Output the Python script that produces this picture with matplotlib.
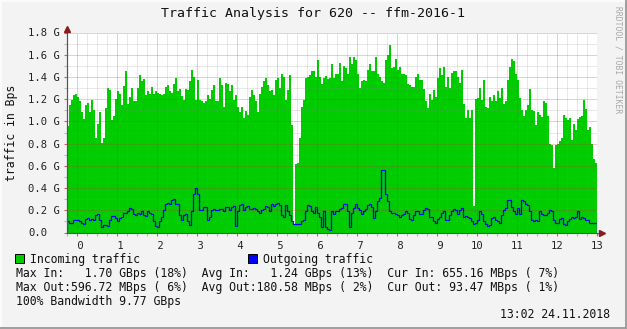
import numpy as np
import matplotlib
matplotlib.use('Agg')
import matplotlib.pyplot as plt
from matplotlib.patches import Rectangle
from matplotlib.lines import Line2D

W, H = 627, 329
MONO = 'DejaVu Sans Mono'

# incoming / outgoing traffic in G, one value per 0.05 on the x axis, starting at -0.25
incoming = [
    0.96, 1.15, 1.19, 1.24, 1.25, 1.22, 1.18, 1.08, 1.02, 1.15, 1.17, 1.08, 1.19, 1.10, 0.85,
    0.98, 1.08, 0.81, 0.85, 1.12, 1.30, 1.28, 1.01, 1.05, 1.20, 1.27, 1.25, 1.15, 1.32, 1.45,
    1.16, 1.22, 1.30, 1.18, 1.18, 1.30, 1.42, 1.36, 1.38, 1.24, 1.27, 1.25, 1.31, 1.25, 1.27,
    1.26, 1.25, 1.24, 1.25, 1.31, 1.33, 1.27, 1.26, 1.34, 1.39, 1.27, 1.29, 1.23, 1.19, 1.29,
    1.28, 1.36, 1.46, 1.40, 1.19, 1.37, 1.19, 1.18, 1.17, 1.18, 1.24, 1.20, 1.28, 1.33, 1.18,
    1.18, 1.39, 1.33, 1.13, 1.35, 1.34, 1.27, 1.33, 1.19, 1.24, 1.13, 1.08, 1.13, 1.03, 1.09,
    1.06, 1.22, 1.28, 1.24, 1.18, 1.08, 1.25, 1.31, 1.36, 1.39, 1.33, 1.27, 1.28, 1.24, 1.37,
    1.39, 1.30, 1.43, 1.40, 1.19, 1.28, 1.42, 0.97, 0.08, 0.62, 0.63, 0.85, 1.13, 1.19, 1.39,
    1.40, 1.42, 1.45, 1.45, 1.40, 1.55, 1.40, 1.34, 1.39, 1.41, 1.38, 1.39, 1.52, 1.39, 1.43,
    1.43, 1.53, 1.36, 1.50, 1.48, 1.43, 1.58, 1.52, 1.58, 1.55, 1.43, 1.30, 1.36, 1.37, 1.36,
    1.46, 1.52, 1.45, 1.45, 1.58, 1.43, 1.40, 1.36, 1.35, 1.55, 1.60, 1.69, 1.48, 1.49, 1.56,
    1.46, 1.49, 1.43, 1.43, 1.42, 1.34, 1.33, 1.31, 1.31, 1.40, 1.43, 1.37, 1.37, 1.29, 1.18,
    1.12, 1.25, 1.19, 1.28, 1.22, 1.39, 1.48, 1.42, 1.49, 1.31, 1.40, 1.30, 1.44, 1.45, 1.45,
    1.40, 1.35, 1.46, 1.16, 1.03, 1.10, 1.03, 1.10, 0.24, 1.20, 1.21, 1.30, 1.19, 1.37, 1.13,
    1.12, 1.22, 1.18, 1.24, 1.18, 1.27, 1.21, 1.30, 1.16, 1.18, 1.37, 1.49, 1.56, 1.54, 1.43,
    1.37, 1.21, 1.10, 1.05, 1.10, 1.15, 1.29, 1.10, 1.09, 0.97, 1.08, 1.06, 1.04, 1.18, 1.17,
    1.05, 0.80, 0.79, 0.58, 0.79, 0.80, 0.82, 0.85, 1.06, 1.03, 1.01, 1.03, 0.83, 0.98, 0.92,
    1.02, 1.04, 1.05, 1.19, 1.11, 0.92, 0.95, 0.80, 0.66, 0.63,
]
outgoing = [
    0.10, 0.09, 0.09, 0.11, 0.11, 0.11, 0.10, 0.09, 0.08, 0.12, 0.13, 0.11, 0.12, 0.11, 0.16,
    0.17, 0.11, 0.05, 0.07, 0.07, 0.06, 0.11, 0.15, 0.15, 0.13, 0.10, 0.13, 0.14, 0.18, 0.18,
    0.19, 0.22, 0.21, 0.17, 0.16, 0.18, 0.17, 0.19, 0.16, 0.15, 0.19, 0.18, 0.17, 0.10, 0.06,
    0.05, 0.10, 0.14, 0.20, 0.26, 0.27, 0.26, 0.29, 0.30, 0.26, 0.26, 0.16, 0.11, 0.16, 0.17,
    0.10, 0.07, 0.19, 0.35, 0.40, 0.35, 0.20, 0.20, 0.23, 0.23, 0.11, 0.14, 0.20, 0.21, 0.20,
    0.20, 0.21, 0.21, 0.19, 0.23, 0.23, 0.20, 0.23, 0.24, 0.06, 0.19, 0.25, 0.26, 0.20, 0.23,
    0.24, 0.21, 0.21, 0.22, 0.21, 0.19, 0.18, 0.20, 0.21, 0.24, 0.23, 0.19, 0.26, 0.24, 0.26,
    0.27, 0.25, 0.16, 0.14, 0.25, 0.19, 0.16, 0.10, 0.08, 0.08, 0.08, 0.08, 0.10, 0.11, 0.19,
    0.25, 0.24, 0.19, 0.18, 0.23, 0.18, 0.14, 0.05, 0.19, 0.05, 0.03, 0.02, 0.19, 0.17, 0.19,
    0.19, 0.21, 0.22, 0.26, 0.26, 0.19, 0.05, 0.18, 0.22, 0.26, 0.22, 0.20, 0.17, 0.19, 0.21,
    0.25, 0.26, 0.23, 0.13, 0.19, 0.28, 0.31, 0.56, 0.56, 0.35, 0.28, 0.19, 0.18, 0.18, 0.17,
    0.16, 0.14, 0.16, 0.17, 0.19, 0.18, 0.12, 0.11, 0.16, 0.19, 0.19, 0.17, 0.17, 0.20, 0.22,
    0.21, 0.14, 0.14, 0.10, 0.09, 0.12, 0.14, 0.18, 0.19, 0.11, 0.11, 0.16, 0.19, 0.21, 0.20,
    0.17, 0.20, 0.22, 0.14, 0.15, 0.14, 0.13, 0.10, 0.08, 0.09, 0.11, 0.19, 0.17, 0.10, 0.08,
    0.06, 0.07, 0.13, 0.14, 0.11, 0.10, 0.09, 0.16, 0.20, 0.22, 0.29, 0.29, 0.23, 0.19, 0.17,
    0.22, 0.17, 0.29, 0.28, 0.26, 0.25, 0.19, 0.11, 0.10, 0.11, 0.10, 0.19, 0.17, 0.16, 0.16,
    0.18, 0.20, 0.19, 0.11, 0.09, 0.09, 0.12, 0.13, 0.08, 0.07, 0.10, 0.12, 0.14, 0.13, 0.14,
    0.19, 0.12, 0.14, 0.13, 0.11, 0.11, 0.09, 0.09, 0.09, 0.09,
]
x_start, x_step = -0.25, 0.05
x_ticks = list(range(0, 14))
y_ticks = [0.0, 0.2, 0.4, 0.6, 0.8, 1.0, 1.2, 1.4, 1.6, 1.8]
y_labels = ['0.0'] + ['%.1f G' % v for v in y_ticks[1:]]

title = 'Traffic Analysis for 620 -- ffm-2016-1'
legend_rows = [
    'Max In:   1.70 GBps (18%)  Avg In:   1.24 GBps (13%)  Cur In: 655.16 MBps ( 7%)',
    'Max Out:596.72 MBps ( 6%)  Avg Out:180.58 MBps ( 2%)  Cur Out: 93.47 MBps ( 1%)',
    '100% Bandwidth 9.77 GBps',
]
stamp = '13:02 24.11.2018'

GREEN = '#00CC00'
BLUE = '#0000FF'
BG = '#F3F3F3'


def fx(x):
    return x / W


def fy(y):
    return 1 - y / H


fig = plt.figure(figsize=(W / 100, H / 100), dpi=100, facecolor=BG)
ax = fig.add_axes([fx(67), fy(232.5), fx(597) - fx(67), fy(32.5) - fy(232.5)])
ax.set_facecolor('white')

edges = x_start + x_step * np.arange(len(incoming) + 1)
ax.stairs(incoming, edges, fill=True, color=GREEN, zorder=1)
ax.stairs(outgoing, edges, color=BLUE, linewidth=0.9, zorder=3)

ax.set_xlim(x_start, 13.0)
ax.set_ylim(0, 1.8)

ax.set_xticks(x_ticks)
ax.set_xticklabels(['%2d' % t for t in x_ticks], family=MONO, fontsize=7.6, color='#222222')
ax.set_xticks(np.arange(-0.25, 13.01, 0.25), minor=True)
ax.set_yticks(y_ticks)
ax.set_yticklabels(y_labels, family=MONO, fontsize=7.6, color='#222222')
ax.set_yticks(np.arange(0, 1.81, 0.1), minor=True)
for lab in ax.get_yticklabels():
    lab.set_horizontalalignment('left')

ax.tick_params(axis='x', which='major', length=2, width=0.8, color='#C86464', pad=4)
ax.tick_params(axis='x', which='minor', length=2, width=0.8, color='#BBBBBB')
ax.tick_params(axis='y', which='major', length=2, width=0.8, color='#C86464', pad=26)
ax.tick_params(axis='y', which='minor', length=2, width=0.8, color='#BBBBBB')

ax.set_axisbelow(False)
ax.grid(which='minor', color='#8C8C8C', alpha=0.4, linewidth=0.72, linestyle=(0, (1, 1)))
ax.grid(which='major', color='#C83232', alpha=0.5, linewidth=0.72, linestyle=(0, (1, 1)))

for s in ['top', 'right']:
    ax.spines[s].set_visible(False)
for s in ['left', 'bottom']:
    ax.spines[s].set_color('#555555')
    ax.spines[s].set_linewidth(0.8)
    ax.spines[s].set_zorder(4)

# axis arrows
fig.add_artist(Line2D([fx(67), fx(67)], [fy(232.5), fy(30)], color='#555555', lw=0.8))
fig.add_artist(Line2D([fx(597), fx(601)], [fy(232.5), fy(232.5)], color='#555555', lw=0.8))
fig.add_artist(Line2D([fx(67)], [fy(29)], marker='^', markersize=4.5, color='#8B1A1A', mec='#8B1A1A'))
fig.add_artist(Line2D([fx(602)], [fy(232.5)], marker='>', markersize=4.5, color='#8B1A1A', mec='#8B1A1A'))

fig.text(fx(313), fy(13), title, family=MONO, fontsize=9.5, ha='center', va='center', color='#111111')
fig.text(fx(12), fy(133), 'traffic in Bps', family=MONO, fontsize=8.3, rotation=90,
         ha='center', va='center', color='#111111')
fig.text(fx(618), fy(60), 'RRDTOOL / TOBI OETIKER', family=MONO, fontsize=5.8, rotation=270,
         ha='center', va='center', color='#A8A8A8')

# legend
fig.add_artist(Rectangle((fx(15), fy(263)), fx(9), fy(254) - fy(263), facecolor=GREEN,
                         edgecolor='black', linewidth=0.7))
fig.text(fx(30), fy(259), 'Incoming traffic', family=MONO, fontsize=8.3, va='center', color='#111111')
fig.add_artist(Rectangle((fx(248), fy(263)), fx(9), fy(254) - fy(263), facecolor=BLUE,
                         edgecolor='black', linewidth=0.7))
fig.text(fx(263), fy(259), 'Outgoing traffic', family=MONO, fontsize=8.3, va='center', color='#111111')
for i, row in enumerate(legend_rows):
    fig.text(fx(16), fy(273 + 14 * i), row, family=MONO, fontsize=8.3, va='center', color='#111111')
fig.text(fx(610), fy(315), stamp, family=MONO, fontsize=8.3, ha='right', va='center', color='#111111')

# 3d frame
fig.add_artist(Line2D([0, 1], [fy(0.5), fy(0.5)], color='#FCFCFC', lw=1.4))
fig.add_artist(Line2D([fx(0.5), fx(0.5)], [0, 1], color='#FCFCFC', lw=1.4))
fig.add_artist(Line2D([0, 1], [fy(328), fy(328)], color='#9E9E9E', lw=1.4))
fig.add_artist(Line2D([fx(626), fx(626)], [0, 1], color='#9E9E9E', lw=1.4))

fig.savefig('out.png', dpi=100, facecolor=BG)
